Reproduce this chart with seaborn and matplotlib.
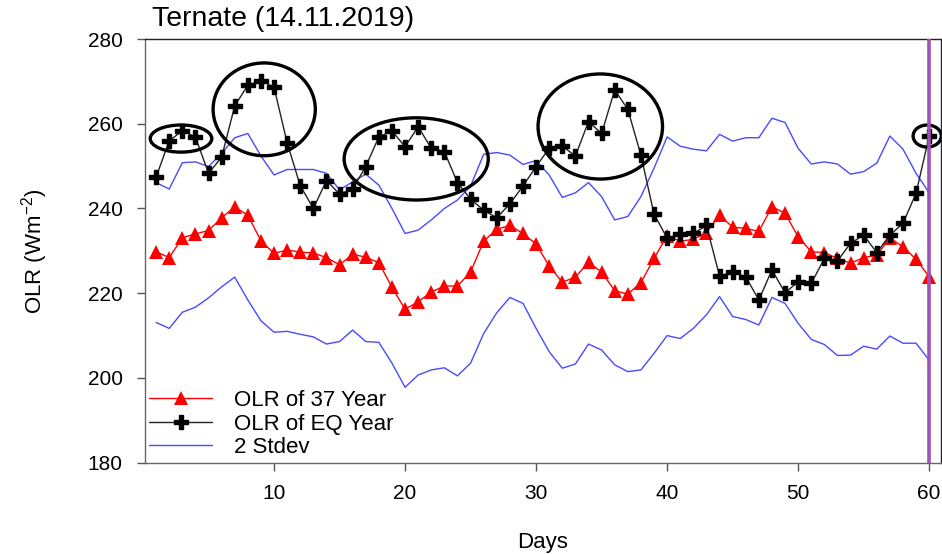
import numpy as np
import pandas as pd
import matplotlib
matplotlib.use("Agg")
import matplotlib.pyplot as plt
from matplotlib.patches import Ellipse
import seaborn as sns

days = list(range(1, 61))

olr_37_year = [229.8, 228.4, 233.1, 234.0, 234.8, 237.8, 240.4, 238.4, 232.4, 229.4,
               230.2, 229.7, 229.5, 228.4, 226.7, 229.2, 228.5, 227.2, 221.4, 216.2,
               218.0, 220.3, 221.7, 221.7, 225.0, 232.3, 235.1, 236.0, 234.1, 231.6,
               226.4, 222.6, 223.8, 227.3, 225.0, 220.6, 219.8, 222.5, 228.2, 233.6,
               232.3, 232.7, 234.3, 238.4, 235.6, 235.3, 234.6, 240.4, 238.9, 233.3,
               229.8, 229.6, 228.2, 227.1, 228.4, 229.0, 233.0, 231.0, 228.0, 223.9]

olr_eq_year = [247.4, 256.0, 258.3, 256.9, 248.3, 252.1, 264.2, 269.1, 270.2, 268.6,
               255.5, 245.4, 240.0, 246.6, 243.4, 244.6, 249.9, 256.9, 258.3, 254.6,
               259.3, 254.2, 253.4, 246.1, 242.2, 239.6, 237.8, 241.1, 245.3, 249.9,
               254.2, 254.7, 252.4, 260.5, 257.7, 268.0, 263.4, 252.6, 238.7, 233.0,
               233.9, 234.1, 236.0, 224.1, 224.9, 223.9, 218.4, 225.5, 220.1, 222.7,
               222.3, 228.2, 227.6, 231.8, 233.7, 229.6, 233.7, 236.5, 243.6, 257.1]

stdev_upper = [246.1, 244.6, 250.8, 251.0, 249.9, 253.0, 256.7, 257.7, 252.4, 247.9,
               249.2, 249.2, 249.2, 248.3, 244.4, 246.3, 248.1, 245.5, 240.0, 234.1,
               234.9, 237.3, 240.0, 242.0, 245.3, 252.8, 253.2, 252.6, 250.4, 251.3,
               247.9, 242.6, 243.7, 246.1, 242.8, 237.3, 238.1, 242.8, 249.5, 256.9,
               254.7, 254.0, 253.6, 257.5, 255.9, 256.7, 256.7, 261.3, 260.3, 254.2,
               250.5, 251.0, 250.5, 248.1, 248.7, 250.7, 257.1, 254.0, 248.3, 243.7]

stdev_lower = [213.1, 211.7, 215.5, 216.7, 218.9, 221.5, 223.8, 218.4, 213.5, 210.8,
               211.0, 210.3, 209.7, 208.0, 208.6, 211.3, 208.6, 208.4, 203.5, 197.8,
               200.7, 201.9, 202.4, 200.5, 203.5, 210.5, 215.4, 219.0, 217.6, 211.7,
               206.2, 202.3, 203.3, 208.0, 206.6, 203.1, 201.5, 201.9, 205.8, 210.0,
               209.3, 211.7, 214.9, 219.2, 214.5, 213.8, 212.5, 219.0, 217.6, 212.9,
               209.1, 207.9, 205.3, 205.4, 207.5, 206.8, 209.9, 208.2, 208.2, 204.2]

# highlighted episodes: (centre day, centre OLR, width in days, height in Wm-2)
highlights = [(2.9, 256.5, 4.7, 6.4),
              (9.25, 263.4, 7.8, 21.9),
              (20.85, 251.7, 11.0, 19.4),
              (34.9, 259.35, 9.5, 24.8),
              (59.85, 257.1, 2.15, 5.2)]

marker_day = 60

sns.set_style("white")
plt.rcParams["font.family"] = ["Liberation Sans", "DejaVu Sans"]
plt.rcParams["text.color"] = "black"
plt.rcParams["axes.labelcolor"] = "black"
plt.rcParams["xtick.color"] = "black"
plt.rcParams["ytick.color"] = "black"

fig = plt.figure(figsize=(9.42, 5.54), dpi=100)
ax = fig.add_axes([0.1539, 0.1648, 0.8450, 0.7648])

df = pd.DataFrame({"day": days, "olr37": olr_37_year, "olreq": olr_eq_year,
                   "up": stdev_upper, "lo": stdev_lower})

sns.lineplot(data=df, x="day", y="olr37", ax=ax, color="#ff0000", lw=1.0,
             marker="^", markersize=10, markeredgewidth=0, label="OLR of 37 Year",
             zorder=3)
sns.lineplot(data=df, x="day", y="olreq", ax=ax, color="#222222", lw=1.0,
             marker="P", markersize=9.5, markerfacecolor="black",
             markeredgecolor="black", markeredgewidth=1.0,
             label="OLR of EQ Year", zorder=4)
sns.lineplot(data=df, x="day", y="up", ax=ax, color="#4a4aff", lw=1.0,
             label="2 Stdev", zorder=2)
sns.lineplot(data=df, x="day", y="lo", ax=ax, color="#4a4aff", lw=1.0,
             legend=False, zorder=2)

for cx, cy, w, h in highlights:
    ax.add_patch(Ellipse((cx, cy), w, h, fill=False, edgecolor="black",
                         lw=2.4, zorder=5))

ax.axvline(marker_day, color="#a251b4", lw=2.6, zorder=6)

ax.set_xlim(0.15, 60.9)
ax.set_ylim(180, 280)
ax.set_xticks([10, 20, 30, 40, 50, 60])
ax.set_yticks([180, 200, 220, 240, 260, 280])
ax.tick_params(axis="both", which="major", labelsize=15, length=6, width=1,
               color="#555555", direction="out", bottom=True, left=True)
ax.tick_params(axis="x", pad=9)
ax.tick_params(axis="y", pad=10)
for side in ["left", "bottom"]:
    ax.spines[side].set_color("#666666")
    ax.spines[side].set_linewidth(1.0)
for side in ["top", "right"]:
    ax.spines[side].set_color("#222222")
    ax.spines[side].set_linewidth(1.0)

ax.set_xlabel("Days", fontsize=16, labelpad=21)
ax.set_ylabel(r"OLR (Wm$^{\mathregular{-2}}$)", fontsize=16, labelpad=27)

fig.text(0.161, 0.966, "Ternate (14.11.2019)", fontsize=20.5, ha="left",
         va="center")

handles, labels = ax.get_legend_handles_labels()
ax.legend(handles, labels, loc="lower left", bbox_to_anchor=(0.0, 0.0),
          frameon=False, fontsize=16, handlelength=2.8, handletextpad=1.0,
          labelspacing=0.12, borderaxespad=0.0, borderpad=0.2)

fig.savefig("out.png", dpi=100)
